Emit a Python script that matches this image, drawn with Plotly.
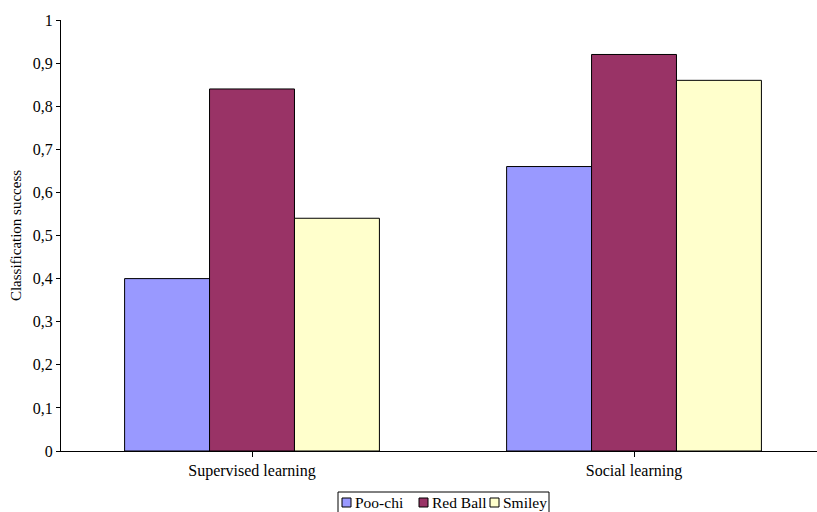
import plotly.graph_objects as go

categories = ["Supervised learning", "Social learning"]
series_names = ["Poo-chi", "Red Ball", "Smiley"]
poochi = [0.40, 0.66]
red_ball = [0.84, 0.92]
smiley = [0.54, 0.86]
colors = ["#9999FF", "#993366", "#FFFFCC"]
y_ticks = [0, 0.1, 0.2, 0.3, 0.4, 0.5, 0.6, 0.7, 0.8, 0.9, 1]
y_tick_labels = ["0", "0,1", "0,2", "0,3", "0,4", "0,5", "0,6", "0,7", "0,8", "0,9", "1"]

fig = go.Figure()
for name, vals, col in zip(series_names, [poochi, red_ball, smiley], colors):
    fig.add_trace(go.Bar(
        x=[0, 1], y=vals, name=name,
        marker=dict(color=col, line=dict(color="black", width=1)),
    ))

font = "Times New Roman, Liberation Serif, DejaVu Serif, serif"
fig.update_layout(
    width=817, height=512,
    margin=dict(l=61, r=0, t=20, b=61, autoexpand=False),
    paper_bgcolor="white", plot_bgcolor="white",
    barmode="group", bargap=0.333, bargroupgap=0,
    font=dict(family=font, size=16, color="black"),
    showlegend=False,
)

# compact legend (Excel style) built from the series lists
px0, py0 = 61, 451
pw, ph = 756, 431
def xp(p):
    return (p - px0) / pw
def yp(p):
    return (py0 - p) / ph

fig.add_shape(type="rect", xref="paper", yref="paper",
              x0=xp(338), x1=xp(549), y0=yp(492), y1=yp(514),
              line=dict(color="black", width=1), fillcolor="white")
sq_x = [342, 419, 490]
for name, col, sx in zip(series_names, colors, sq_x):
    fig.add_shape(type="rect", xref="paper", yref="paper",
                  x0=xp(sx), x1=xp(sx + 9), y0=yp(498), y1=yp(507),
                  line=dict(color="black", width=1), fillcolor=col)
    fig.add_annotation(text=name, xref="paper", yref="paper",
                       x=xp(sx + 12), y=yp(502.5), xanchor="left", yanchor="middle",
                       showarrow=False, borderpad=0, font=dict(size=15.5, family=font))

fig.update_xaxes(
    range=[-0.5, 1.479], tickvals=[0, 1], ticktext=categories,
    showline=True, linecolor="black", linewidth=1,
    ticks="outside", tickson="boundaries", ticklen=5, tickcolor="black",
    showgrid=False, zeroline=False, tickfont=dict(size=16, family=font),
)
fig.update_yaxes(
    range=[0, 1], tickvals=y_ticks, ticktext=y_tick_labels,
    showline=True, linecolor="black", linewidth=1,
    ticks="outside", ticklen=4, tickcolor="black",
    showgrid=False, zeroline=False, tickfont=dict(size=16, family=font),
    title=dict(text="Classification success", font=dict(size=15, family=font), standoff=7),
)
fig.write_html("out.html")
